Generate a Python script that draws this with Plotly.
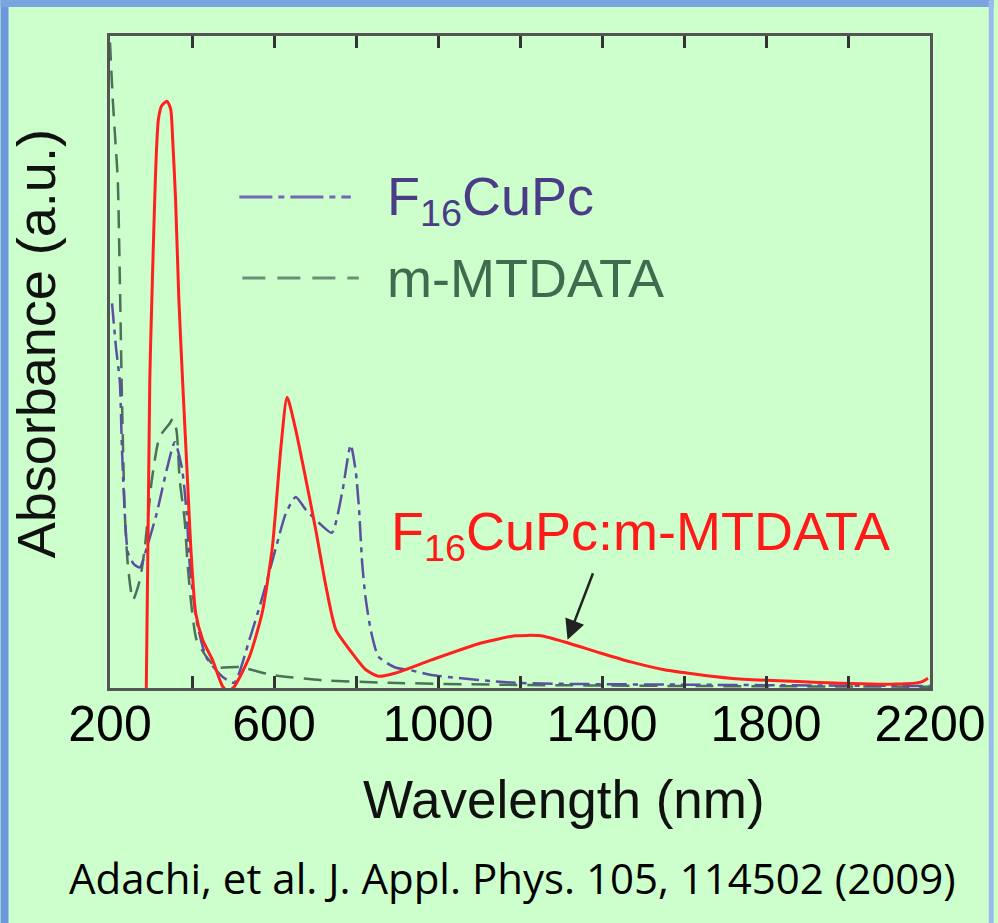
import plotly.graph_objects as go

# ---------------- data ----------------
# F16CuPc:m-MTDATA blend (red, solid)
blend_wl = [288, 297, 302, 309, 313, 318, 326, 339, 348, 353, 360, 368, 377, 389, 397, 409, 426, 450, 475,
            488, 503, 540, 571, 596, 617, 632, 653, 678, 702, 727, 751, 790, 824, 855, 897, 984, 1105,
            1188, 1251, 1317, 1389, 1470, 1552, 1712, 1916, 2117, 2178, 2195]
blend_abs = [-0.03, 0.472, 0.595, 0.748, 0.82, 0.872, 0.893, 0.900, 0.888, 0.84, 0.748, 0.595, 0.472,
             0.319, 0.216, 0.115, 0.074, 0.043, 0.002, -0.005, 0.002, 0.048, 0.115, 0.216, 0.370, 0.446,
             0.396, 0.319, 0.242, 0.155, 0.089, 0.054, 0.028, 0.018, 0.023, 0.043, 0.069, 0.080, 0.080,
             0.069, 0.055, 0.040, 0.028, 0.015, 0.009, 0.006, 0.009, 0.015]

# F16CuPc (dash-dot)
f16_wl = [205, 215, 224, 229, 236, 244, 258, 273, 290, 314, 338, 358, 375, 387, 394, 411, 435, 475, 503,
          540, 572, 605, 629, 653, 678, 710, 741, 766, 787, 799, 807, 815, 823, 836, 855, 897, 928, 984,
          1188, 1633, 2200]
f16_abs = [0.59, 0.52, 0.47, 0.37, 0.268, 0.207, 0.19, 0.185, 0.216, 0.268, 0.334, 0.377, 0.339, 0.268,
           0.192, 0.104, 0.047, 0.017, 0.008, 0.074, 0.140, 0.216, 0.268, 0.293, 0.273, 0.253, 0.238,
           0.299, 0.373, 0.334, 0.278, 0.192, 0.140, 0.089, 0.048, 0.031, 0.028, 0.020, 0.008, 0.005, 0.003]

# m-MTDATA (dashed)
mt_wl = [200, 207, 213, 219, 224, 229, 236, 244, 256, 273, 285, 302, 321, 346, 353, 362, 370, 382, 389,
         399, 411, 435, 459, 515, 596, 717, 880, 1147, 1633, 2200]
mt_abs = [0.99, 0.90, 0.84, 0.779, 0.626, 0.45, 0.268, 0.186, 0.135, 0.166, 0.216, 0.319, 0.385, 0.406,
          0.413, 0.396, 0.319, 0.258, 0.192, 0.124, 0.074, 0.048, 0.032, 0.032, 0.020, 0.012, 0.008,
          0.005, 0.003, 0.002]

tick_vals = [200, 400, 600, 800, 1000, 1200, 1400, 1600, 1800, 2000, 2200]
tick_text = ["200", "", "600", "", "1000", "", "1400", "", "1800", "", "2200"]

# ---------------- figure ----------------
W, H = 998, 923
ML, MR, MT, MB = 110, 64, 36, 235
PW, PH = W - ML - MR, H - MT - MB


def px(x):
    return (x - ML) / PW


def py(y):
    return (H - MB - y) / PH


RED = "#ff2020"
BLUE = "#5b4fa0"
GREEN = "#4d7058"
FONT = "Liberation Sans, Arial, sans-serif"

fig = go.Figure()
fig.add_trace(go.Scatter(x=mt_wl, y=mt_abs, mode="lines", name="m-MTDATA",
                         line=dict(color=GREEN, width=2.5, dash="18px,10px", shape="spline", smoothing=0.6)))
fig.add_trace(go.Scatter(x=f16_wl, y=f16_abs, mode="lines", name="F16CuPc",
                         line=dict(color=BLUE, width=2.5, dash="20px,6px,5px,6px", shape="spline", smoothing=0.6)))
fig.add_trace(go.Scatter(x=blend_wl, y=blend_abs, mode="lines", name="F16CuPc:m-MTDATA",
                         line=dict(color=RED, width=3, shape="spline", smoothing=0.6)))

shapes = [
    # blue slide border
    dict(type="rect", xref="paper", yref="paper", x0=px(0), x1=px(8), y0=py(H), y1=py(0),
         fillcolor="#6a98da", line=dict(width=0), layer="below"),
    dict(type="rect", xref="paper", yref="paper", x0=px(0), x1=px(W), y0=py(7), y1=py(0),
         fillcolor="#7aa4df", line=dict(width=0), layer="below"),
    dict(type="rect", xref="paper", yref="paper", x0=px(993), x1=px(W), y0=py(H), y1=py(0),
         fillcolor="#9dbbe9", line=dict(width=0), layer="below"),
    # legend sample lines
    dict(type="line", xref="paper", yref="paper", x0=px(240), x1=px(352), y0=py(197), y1=py(197),
         line=dict(color="#7566b8", width=3, dash="33px,6px,6px,6px")),
    dict(type="line", xref="paper", yref="paper", x0=px(243), x1=px(360), y0=py(278), y1=py(278),
         line=dict(color="#6c8f76", width=3, dash="23px,12px")),
]

annotations = [
    dict(text="F<sub>16</sub>CuPc", xref="paper", yref="paper", x=px(386), y=py(200),
         xanchor="left", yanchor="middle", showarrow=False,
         font=dict(family=FONT, size=54, color="#4a3c86")),
    dict(text="m-MTDATA", xref="paper", yref="paper", x=px(386), y=py(278),
         xanchor="left", yanchor="middle", showarrow=False,
         font=dict(family=FONT, size=54, color="#3f6b4f")),
    dict(text="F<sub>16</sub>CuPc:m-MTDATA", xref="paper", yref="paper", x=px(390), y=py(535),
         xanchor="left", yanchor="middle", showarrow=False,
         font=dict(family=FONT, size=54, color="#ff1a1a")),
    # arrow pointing to the blend NIR band
    dict(text="", x=1316, y=0.074, xref="x", yref="y", showarrow=True,
         ax=26, ay=-68, arrowhead=2, arrowsize=1.6, arrowwidth=2.5, arrowcolor="#222222"),
    dict(text="Absorbance (a.u.)", xref="paper", yref="paper", x=px(36), y=py(344),
         textangle=-90, xanchor="center", yanchor="middle", showarrow=False,
         font=dict(family=FONT, size=54, color="#111111")),
    dict(text="Wavelength (nm)", xref="paper", yref="paper", x=px(566), y=py(800),
         xanchor="center", yanchor="middle", showarrow=False,
         font=dict(family=FONT, size=53, color="#111111")),
    dict(text="Adachi, et al. J. Appl. Phys. 105, 114502 (2009)", xref="paper", yref="paper",
         x=px(514), y=py(878), xanchor="center", yanchor="middle", showarrow=False,
         font=dict(family="Liberation Sans Narrow, Open Sans, sans-serif", size=42, color="#000000")),
]

fig.update_layout(
    width=W, height=H,
    margin=dict(l=ML, r=MR, t=MT, b=MB, pad=0),
    paper_bgcolor="#ccffcc", plot_bgcolor="#ccffcc",
    showlegend=False,
    shapes=shapes, annotations=annotations,
    xaxis=dict(range=[200, 2200], tickmode="array", tickvals=tick_vals, ticktext=tick_text,
               ticks="inside", ticklen=12, tickwidth=3, tickcolor="#333333",
               showline=True, linecolor="#555555", linewidth=3, mirror="ticks",
               showgrid=False, zeroline=False, ticklabelstandoff=-10,
               tickfont=dict(family=FONT, size=50, color="#000000")),
    yaxis=dict(range=[0, 1], showticklabels=False, ticks="",
               showline=True, linecolor="#555555", linewidth=3, mirror=True,
               showgrid=False, zeroline=False),
)

fig.write_html("out.html")
